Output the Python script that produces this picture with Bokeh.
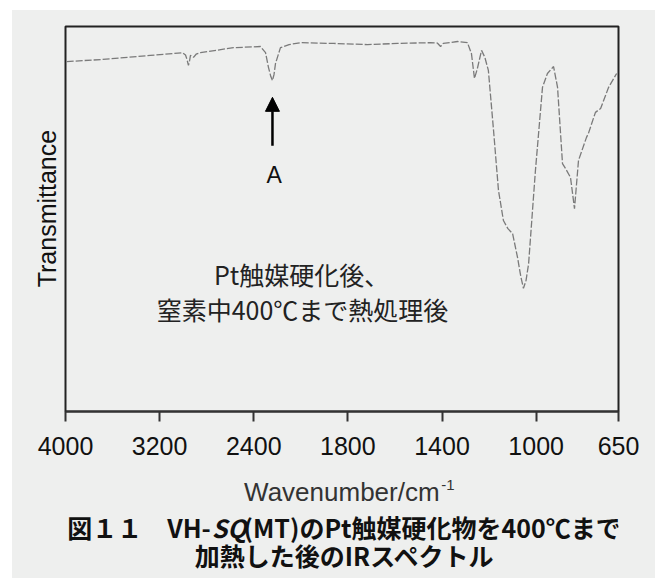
import numpy as np
from bokeh.plotting import figure
from bokeh.layouts import column
from bokeh.models import Range1d, FixedTicker, Label, Arrow, NormalHead
from bokeh.embed import file_html
from bokeh.resources import INLINE

# ---- data ----
wavenumber = [3990, 3700, 3280, 3005, 2980, 2968, 2955, 2945, 2938, 2912,
              2890, 2853, 2572, 2343, 2300, 2275, 2255, 2241, 2228, 2215,
              2173, 2100, 2003, 1861, 1717, 1589, 1449, 1420, 1406, 1395,
              1334, 1292, 1275, 1262, 1250, 1232, 1218, 1203, 1181, 1160,
              1139, 1120, 1100, 1079, 1065, 1054, 1043, 1032, 1003, 973,
              952, 926, 909, 888, 875, 854, 837, 820, 786, 778,
              748, 726, 692, 658]
transmittance = [90.9, 91.4, 92.5, 93.2, 92.6, 91.5, 89.9, 91.2, 92.5, 92.0,
                 92.8, 93.2, 94.5, 94.8, 93.2, 89.4, 87.0, 86.0, 87.5, 90.4,
                 94.5, 95.3, 95.8, 95.6, 95.3, 95.6, 95.8, 95.7, 94.8, 95.6,
                 96.1, 95.8, 93.0, 86.5, 89.0, 93.8, 92.0, 88.6, 73.0, 57.4,
                 49.6, 47.5, 46.2, 40.0, 35.0, 32.0, 34.0, 38.4, 62.6, 84.2,
                 87.8, 89.6, 84.2, 64.4, 63.1, 60.8, 52.7, 65.2, 71.2, 72.2,
                 77.7, 78.7, 84.2, 87.8]
tick_wavenumbers = [4000, 3200, 2400, 1800, 1400, 1000, 650]
tick_labels = ["4000", "3200", "2400", "1800", "1400", "1000", "650"]
peak_A = 2241

# IR x scale: 4000-2000 at 1x, below 2000 expanded 2x
def to_axis(w):
    w = np.asarray(w, dtype=float)
    return np.where(w >= 2000, 4000 - w, 2000 + 2 * (2000 - w))

xs = to_axis(wavenumber)
ticks = [float(v) for v in to_axis(tick_wavenumbers)]

BG = "#eeefee"
LAT = "Liberation Sans"
CJK = "Noto Sans CJK JP"

# ---------------- main plot ----------------
p = figure(width=643, height=460, output_backend="svg", toolbar_location=None,
           x_range=Range1d(0, 4700), y_range=Range1d(0, 100),
           min_border_left=53, min_border_right=37, min_border_top=16,
           min_border_bottom=59)
p.background_fill_color = BG
p.border_fill_color = BG
p.outline_line_color = "#222222"
p.outline_line_width = 2
p.grid.visible = False

ya = p.yaxis[0]
ya.ticker = FixedTicker(ticks=[])
ya.axis_line_color = None
ya.major_tick_out = 0
ya.major_tick_in = 0
ya.minor_tick_line_color = None
ya.major_label_standoff = 0
ya.axis_label = "\u00a0\u00a0\u00a0Transmittance"
ya.axis_label_text_font = LAT
ya.axis_label_text_font_size = "25px"
ya.axis_label_text_font_style = "normal"
ya.axis_label_text_color = "#111111"
ya.axis_label_standoff = 5

ax = p.xaxis[0]
ax.ticker = FixedTicker(ticks=ticks)
ax.major_label_overrides = {t: l for t, l in zip(ticks, tick_labels)}
ax.major_label_text_font = LAT
ax.major_label_text_font_size = "25px"
ax.major_label_text_color = "#111111"
ax.major_label_standoff = 15
ax.major_tick_out = 10
ax.major_tick_in = 0
ax.major_tick_line_width = 2
ax.major_tick_line_color = "#333333"
ax.minor_tick_line_color = None
ax.axis_line_width = 2
ax.axis_line_color = "#333333"

p.line(xs, transmittance, line_color="#7a7a7a", line_width=1.3, line_dash="7 2")

xa = float(to_axis([peak_A])[0])
p.add_layout(Arrow(end=NormalHead(size=14, fill_color="black", line_color="black"),
                   x_start=xa, y_start=69, x_end=xa, y_end=81.6,
                   line_width=2.5, line_color="black"))
p.add_layout(Label(x=xa + 15, y=61.3, text="A", text_font=LAT, text_font_size="23px",
                   text_align="center", text_baseline="middle", text_color="#111111"))

p.add_layout(Label(x=2006, y=35.6, text="Pt触媒硬化後、", text_font=CJK,
                   text_font_size="25px", text_align="center", text_baseline="middle",
                   text_color="#222222"))
p.add_layout(Label(x=2014, y=26.5, text="窒素中400℃まで熱処理後", text_font=CJK,
                   text_font_size="25px", text_align="center", text_baseline="middle",
                   text_color="#222222"))

# ---------------- bottom strip: axis title + caption ----------------
q = figure(width=643, height=108, output_backend="svg", toolbar_location=None,
           x_range=Range1d(12, 655), y_range=Range1d(578, 470),
           x_axis_location=None, y_axis_location=None, min_border=0)
q.background_fill_color = BG
q.border_fill_color = BG
q.outline_line_color = None
q.grid.visible = False

q.add_layout(Label(x=447, y=491, text="Wavenumber/cm", text_font=LAT,
                   text_font_size="26px", text_align="right", text_baseline="middle",
                   text_color="#333333"))
q.add_layout(Label(x=449, y=484, text="-1", text_font=LAT,
                   text_font_size="15px", text_align="left", text_baseline="middle",
                   text_color="#333333"))

cap_kw = dict(text_font=CJK, text_font_size="25px", text_baseline="middle",
              text_color="#111111")
q.add_layout(Label(x=181, y=526, text="図１１　VH-", text_align="right",
                   text_font_style="bold", **cap_kw))
q.add_layout(Label(x=182, y=526, text="SQ", text_align="left",
                   text_font_style="bold italic", **cap_kw))
q.add_layout(Label(x=219, y=526, text="(MT)のPt触媒硬化物を400℃まで", text_align="left",
                   text_font_style="bold", **cap_kw))
q.add_layout(Label(x=337, y=554, text="加熱した後のIRスペクトル", text_align="center",
                   text_font_style="bold", **cap_kw))

layout = column(p, q, spacing=0, margin=(10, 7, 0, 12),
                styles={"background-color": BG})
open("out.html", "w").write(file_html(layout, INLINE))
